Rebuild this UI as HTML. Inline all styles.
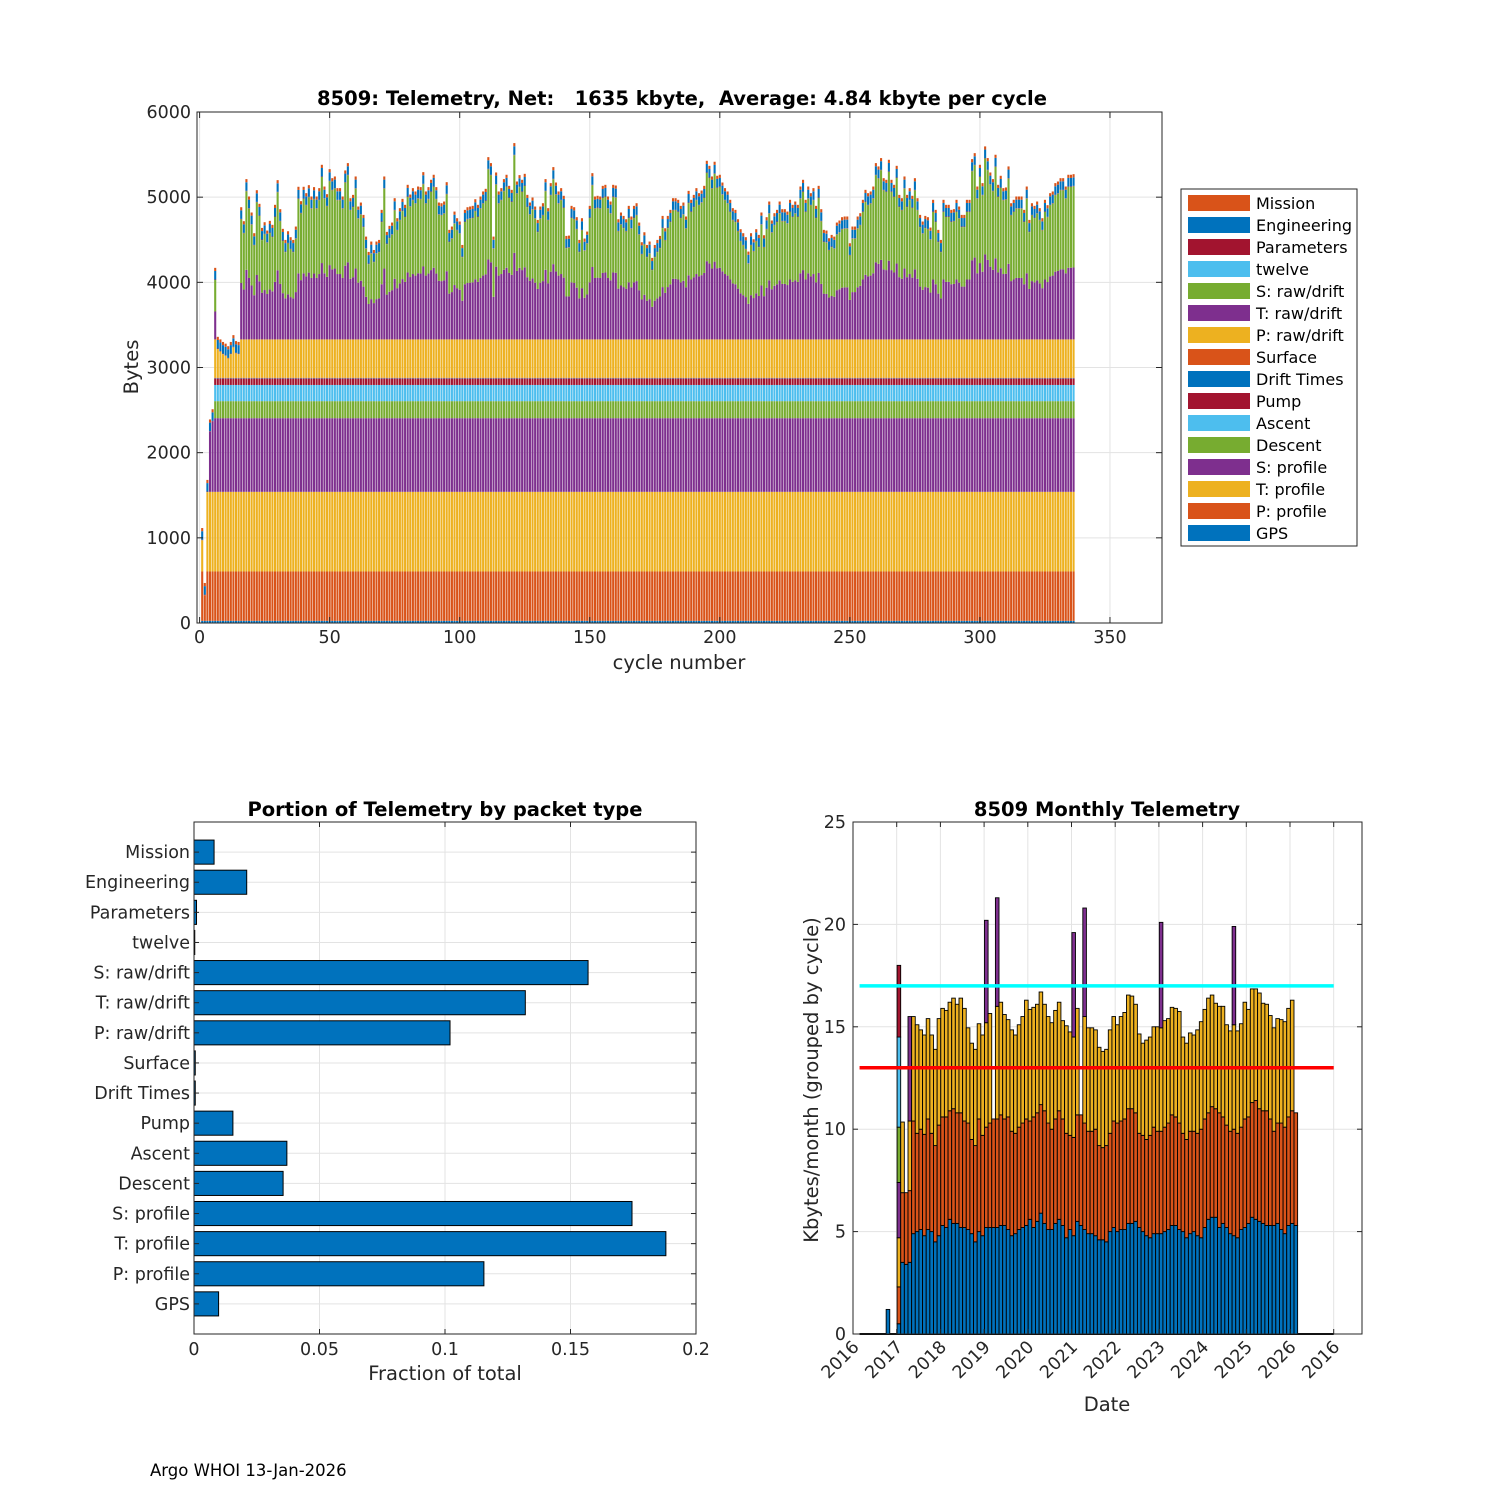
<!DOCTYPE html>
<html><head><meta charset="utf-8"><style>
html,body{margin:0;padding:0;background:#fff;}
svg{display:block;font-family:"DejaVu Sans","Liberation Sans",sans-serif;}
</style></head><body>
<svg id="fig" width="1500" height="1500" viewBox="0 0 1500 1500" xmlns="http://www.w3.org/2000/svg">
<rect x="0" y="0" width="1500" height="1500" fill="#fff"/>
<g id="top"></g>
<g id="legend"></g>
<g id="bl"></g>
<g id="br"></g>
<text x="150" y="1476" font-size="16.5" fill="#000">Argo WHOI 13-Jan-2026</text>
</svg>
<script>
// ---------- top chart data ----------
const cycleTotal = [1115,470,1680,2390,2510,4170,3360,3330,3300,3280,3250,3300,3380,3310,3300,
4882,4718,5212,5008,4820,4577,5082,4922,4639,4706,
4608,4722,4675,4910,5200,4859,4628,4498,4600,4530,
4498,4655,5122,4953,5122,5047,5141,5008,5118,5008,
5106,5380,5125,5035,5329,5223,5243,5106,5106,5008,
5314,5400,4988,5027,5243,4890,4937,4792,4537,4357,
4479,4380,4479,4498,4851,5243,4592,4663,4702,4988,
4753,4871,4980,4910,5145,5031,5106,5067,5125,5118,
5294,5067,5118,5204,5263,5118,4937,4929,4949,5176,
4616,4655,4831,4753,4714,4439,4851,4882,4890,4898,
4976,4910,5008,5067,5098,5470,5400,
4537,5290,5067,5106,5212,5263,5133,5086,
5635,5184,5259,5204,5274,5027,4937,4996,4890,4733,
4890,4929,5212,4871,5165,5353,5172,5067,5106,5016,
4545,4549,4898,4882,4765,4498,4753,4514,4596,4898,
5282,5008,5016,5008,5133,5145,5008,4949,5145,5137,
4741,4820,4780,4741,4898,4773,4898,4929,4702,4471,
4588,4439,4479,4287,4439,4498,4545,4780,4635,4780,
4851,4988,4988,4969,4898,4937,4773,5074,4969,5027,
5106,5047,5078,5133,5427,5368,5243,5416,5251,5263,
5172,5106,5067,4969,4871,4851,4741,4624,4577,4530,
4361,4577,4506,4624,4557,4820,4553,4765,4949,4726,
4812,4851,4949,4859,4859,
4831,4969,4910,4949,4910,5125,5204,4969,
5125,5047,5106,4898,5133,4859,4616,4608,4518,4557,
4537,4702,4726,4765,4773,4773,4459,4655,4655,4773,
4812,4969,5086,5047,5067,5125,5400,5361,5459,5223,
5204,5439,5204,5145,5368,5027,4988,5243,5027,5106,
5016,5223,4988,4792,4714,4780,4765,4643,4969,4851,
4616,4498,4969,4910,4910,4851,4859,4969,4890,4792,
4792,4969,4969,5447,5517,5125,5380,5165,5596,5459,
5290,5212,5498,5145,5251,5106,5114,5361,4929,4969,
5008,5008,5008,4851,5125,4733,4929,4898,4949,4871,
4753,4969,4906,5047,5067,5165,5184,5223,5223,5125,
5263,5263,5270];
const layerNames = ['GPS','P: profile','T: profile','S: profile','Descent','Ascent','Pump','Drift Times','Surface','P: raw/drift','T: raw/drift','S: raw/drift','twelve','Parameters','Engineering','Mission'];
const layerColors = ['#0072BD','#D95319','#EDB120','#7E2F8E','#77AC30','#4DBEEE','#A2142F','#0072BD','#D95319','#EDB120','#7E2F8E','#77AC30','#4DBEEE','#A2142F','#0072BD','#D95319'];
const typicalBytes = [25,580,935,865,200,190,75,5,5,450,0,0,1,5,100,37];
const tRawShare = [0.47];
const topXTicks = [0,50,100,150,200,250,300,350];
const topYTicks = [0,1000,2000,3000,4000,5000,6000];

// ---------- bottom-left data ----------
const packetNames = ['GPS','P: profile','T: profile','S: profile','Descent','Ascent','Pump','Drift Times','Surface','P: raw/drift','T: raw/drift','S: raw/drift','twelve','Parameters','Engineering','Mission'];
const packetFractions = [0.0098,0.1155,0.188,0.1745,0.0355,0.037,0.0155,0.0005,0.0005,0.102,0.132,0.157,0.0003,0.001,0.021,0.008];
const fracTicks = [0,0.05,0.1,0.15,0.2];
const fracTickLabels = ['0','0.05','0.1','0.15','0.2'];

// ---------- bottom-right data (months from Oct 2016) ----------
const blueTop = [1.2,0,0,0.5,3.5,3.4,3.5,
4.9,5.0,5.1,4.8,5.1,5.0,4.5,4.8,
5.3,5.2,5.6,5.4,5.4,5.2,5.2,5.1,4.9,4.5,5.0,4.8,
5.2,5.2,5.2,5.2,5.3,5.3,5.1,4.8,4.9,5.1,5.2,5.3,
5.6,5.2,5.5,5.9,5.4,5.1,5.1,5.4,5.6,5.3,4.7,5.1,
4.8,5.5,5.3,5.1,4.9,4.9,4.8,4.6,4.6,4.5,5.0,5.2,
5.0,5.1,5.1,5.4,5.4,5.5,5.2,5.0,4.8,4.7,4.9,4.9,
4.9,5.0,5.1,5.3,5.3,5.1,5.0,4.7,4.9,5.0,4.8,4.7,
5.2,5.6,5.7,5.7,5.2,5.4,5.2,4.9,4.8,4.7,5.1,5.2,
5.4,5.7,5.6,5.5,5.4,5.3,5.3,5.3,5.4,5.1,4.9,5.3,
5.4,5.3];
const orangeTop = [0,0,0,2.3,6.9,6.9,7.0,
10.4,9.8,10.0,9.75,10.5,9.8,9.2,10.2,
10.6,10.6,10.9,11.0,10.8,10.8,10.4,10.3,9.5,9.2,10.5,9.7,
10.1,10.3,10.5,10.5,10.7,10.5,10.6,9.9,9.8,10.1,10.3,10.5,
10.4,10.6,10.8,11.2,10.9,10.3,10.0,10.5,10.9,10.5,9.8,9.7,
9.6,10.7,10.7,10.3,9.9,9.9,10.0,9.2,9.1,9.2,9.8,10.4,
10.3,10.4,10.5,11.0,11.0,10.8,9.8,9.7,9.5,9.7,10.1,9.9,
9.9,10.1,10.3,10.7,10.6,10.3,9.8,9.5,9.9,9.9,9.8,10.0,
10.5,10.8,11.1,11.0,10.8,10.6,10.2,9.9,10.0,9.8,10.1,10.5,
10.6,11.3,11.4,11.0,10.9,10.9,10.5,9.9,10.3,10.3,10.1,10.6,
10.9,10.8];
const yellowTop = [0,0,0,4.7,10.35,6.9,10.4,
15.5,15.1,14.85,14.6,15.4,14.6,13.9,15.4,
15.9,15.8,16.2,16.4,16.1,16.4,15.9,14.95,14.2,13.9,15.15,14.6,
15.2,15.65,10.5,16.0,16.2,15.6,15.35,14.85,14.6,15.1,15.5,16.3,
15.85,15.95,16.1,16.7,16.1,15.5,15.2,15.8,16.2,15.3,15.05,14.75,
14.5,15.9,10.7,15.5,14.95,14.95,14.85,14.0,13.8,13.9,14.85,15.5,
15.1,15.5,15.7,16.55,16.5,16.1,14.65,14.2,14.35,14.5,15.0,15.0,
14.95,15.3,15.4,15.95,15.9,15.75,14.5,14.2,14.7,14.6,14.85,15.25,
15.85,16.4,16.55,16.15,16.0,16.0,15.1,14.8,15.1,14.8,15.15,16.2,
15.85,16.85,16.85,16.65,16.15,16.1,15.55,14.95,15.4,15.35,15.25,15.9,
16.3,10.8];
const purpleMonths = [3,6,27,30,51,54,75,95];
const purpleTops = [7.4,15.5,20.2,21.3,19.6,20.8,20.1,19.9];
const greenMonths = [3];
const greenTops = [10.1];
const cyanMonths = [3];
const cyanTops = [14.5];
const redMonths = [3];
const redTops = [18.0];
const monthTickYears = [2016,2017,2018,2019,2020,2021,2022,2023,2024,2025,2026,2027];
const monthTickLabels = ['2016','2017','2018','2019','2020','2021','2022','2023','2024','2025','2026','2016'];
const monthYTicks = [0,5,10,15,20,25];
const limitLevels = [17,13];

const NS='http://www.w3.org/2000/svg';
function mk(parent, tag, attrs, text){
  const e=document.createElementNS(NS,tag);
  for(const k in attrs) e.setAttribute(k,attrs[k]);
  if(text!==undefined) e.textContent=text;
  parent.appendChild(e); return e;
}
const AX='#262626', GRID='#e3e3e3';
const TF=17.5, LF=19.5;

// ================= TOP CHART =================
(function(){
  const g=document.getElementById('top');
  const L=197,R=1162,T=112,B=623;
  const xmin=-1,xmax=370,ymax=6000;
  const sx=v=>L+(v-xmin)/(xmax-xmin)*(R-L);
  const sy=v=>B-v/ymax*(B-T);
  let bg=mk(g,'rect',{x:L,y:T,width:R-L,height:B-T,fill:'#fff'});
  
  
  topXTicks.forEach(t=>{const l=mk(g,'line',{x1:sx(t),x2:sx(t),y1:T,y2:B,stroke:GRID,'stroke-width':1});
    
    });
  topYTicks.forEach(t=>{const l=mk(g,'line',{x1:L,x2:R,y1:sy(t),y2:sy(t),stroke:GRID,'stroke-width':1});
    
    });
  const bw=0.8*(R-L)/(xmax-xmin);
  const barsG=mk(g,'g',{});
  
  
  cycleTotal.forEach((tot,c)=>{
    const over=typicalBytes[12]+typicalBytes[13]+typicalBytes[14]+typicalBytes[15];
    let avail=Math.max(0,tot-over);
    const seg=new Array(16).fill(0);
    let acc=0;
    for(let k=0;k<10;k++){const v=Math.min(typicalBytes[k],Math.max(0,avail-acc));seg[k]=v;acc+=v;}
    const rem=Math.max(0,avail-acc);
    seg[10]=rem*tRawShare[0]; seg[11]=rem-seg[10];
    let top=Math.min(over,tot);
    for(let k=12;k<16;k++){const v=Math.min(typicalBytes[k],top);seg[k]=v;top-=v;}
    let base=0;
    const xc=sx(c+1);
    for(let k=0;k<16;k++){
      if(seg[k]<=0) continue;
      const r=mk(barsG,'rect',{x:xc-bw/2,y:sy(base+seg[k]),width:bw,height:sy(base)-sy(base+seg[k]),fill:layerColors[k]});
      
      
      base+=seg[k];
    }
  });
  const box=mk(g,'rect',{x:L,y:T,width:R-L,height:B-T,fill:'none',stroke:AX,'stroke-width':1});
  
  
  topXTicks.forEach(t=>{
    mk(g,'line',{x1:sx(t),x2:sx(t),y1:B,y2:B-6,stroke:AX});
    mk(g,'line',{x1:sx(t),x2:sx(t),y1:T,y2:T+6,stroke:AX});
    const tx=mk(g,'text',{x:sx(t),y:B+20,'font-size':TF,'text-anchor':'middle',fill:AX},String(t));
    
    
  });
  topYTicks.forEach(t=>{
    mk(g,'line',{x1:L,x2:L+6,y1:sy(t),y2:sy(t),stroke:AX});
    mk(g,'line',{x1:R,x2:R-6,y1:sy(t),y2:sy(t),stroke:AX});
    const tx=mk(g,'text',{x:L-6,y:sy(t)+6,'font-size':TF,'text-anchor':'end',fill:AX},String(t));
    
    
  });
  const ti=mk(g,'text',{x:682,y:105,'font-size':LF,'font-weight':'bold','text-anchor':'middle',fill:'#000','xml:space':'preserve'},'8509: Telemetry, Net:   1635 kbyte,  Average: 4.84 kbyte per cycle');
  ti.style.whiteSpace='pre';
  
  
  const xl=mk(g,'text',{x:679,y:669,'font-size':LF,'text-anchor':'middle',fill:AX},'cycle number');
  
  
  const yl=mk(g,'text',{x:0,y:0,'font-size':LF,'text-anchor':'middle',fill:AX,transform:'translate(138,367) rotate(-90)'},'Bytes');
  
  
})();

// ================= LEGEND =================
(function(){
  const g=document.getElementById('legend');
  const bx=mk(g,'rect',{x:1181,y:189,width:176,height:357,fill:'#fff',stroke:AX,'stroke-width':1});
  
  
  for(let i=0;i<16;i++){
    const k=15-i;
    const y=203+i*22;
    const eg=mk(g,'g',{});
    
    
    mk(eg,'rect',{x:1188,y:y-8,width:62,height:16,fill:layerColors[k]});
    mk(eg,'text',{x:1256,y:y+6,'font-size':16,fill:'#000'},layerNames[k]);
  }
})();

// ================= BOTTOM LEFT =================
(function(){
  const g=document.getElementById('bl');
  const L=194,R=696,T=822,B=1334;
  const sx=v=>L+v/0.2*(R-L);
  const rowH=(B-T)/17;
  const sy=k=>B-k*rowH;
  fracTicks.forEach(t=>{const l=mk(g,'line',{x1:sx(t),x2:sx(t),y1:T,y2:B,stroke:GRID});
    
    });
  packetNames.forEach((n,i)=>{const l=mk(g,'line',{x1:L,x2:R,y1:sy(i+1),y2:sy(i+1),stroke:GRID});
    
    });
  packetFractions.forEach((v,i)=>{
    const h=0.8*rowH;
    const r=mk(g,'rect',{x:L,y:sy(i+1)-h/2,width:sx(v)-L,height:h,fill:'#0072BD',stroke:'#000','stroke-width':1});
    
    
  });
  const box=mk(g,'rect',{x:L,y:T,width:R-L,height:B-T,fill:'none',stroke:AX});
  
  
  fracTicks.forEach((t,i)=>{
    mk(g,'line',{x1:sx(t),x2:sx(t),y1:B,y2:B-5,stroke:AX});
    mk(g,'line',{x1:sx(t),x2:sx(t),y1:T,y2:T+5,stroke:AX});
    const tx=mk(g,'text',{x:sx(t),y:B+21,'font-size':TF,'text-anchor':'middle',fill:AX},fracTickLabels[i]);
    
    
  });
  packetNames.forEach((n,i)=>{
    mk(g,'line',{x1:L,x2:L+5,y1:sy(i+1),y2:sy(i+1),stroke:AX});
    mk(g,'line',{x1:R,x2:R-5,y1:sy(i+1),y2:sy(i+1),stroke:AX});
    const tx=mk(g,'text',{x:L-4,y:sy(i+1)+6,'font-size':TF,'text-anchor':'end',fill:AX},n);
    
    
  });
  const ti=mk(g,'text',{x:445,y:816,'font-size':LF,'font-weight':'bold','text-anchor':'middle',fill:'#000'},'Portion of Telemetry by packet type');
  
  
  const xl=mk(g,'text',{x:445,y:1380,'font-size':LF,'text-anchor':'middle',fill:AX},'Fraction of total');
  
  
})();

// ================= BOTTOM RIGHT =================
(function(){
  const g=document.getElementById('br');
  const L=853,R=1362,T=822,B=1334;
  const yearPx=43.7;
  const sx=t=>L+(t-2016)*yearPx;
  const sy=v=>B-v/25*(B-T);
  monthTickYears.forEach(y=>{const l=mk(g,'line',{x1:sx(y),x2:sx(y),y1:T,y2:B,stroke:GRID});
    
    });
  monthYTicks.forEach(v=>{const l=mk(g,'line',{x1:L,x2:R,y1:sy(v),y2:sy(v),stroke:GRID});
    
    });
  const bw=3.6;
  const center=i=>sx(2016+(9+i+0.6)/12);
  function seg(x,lo,hi,col){
    if(hi<=lo) return;
    const r=mk(g,'rect',{x:x-bw/2,y:sy(hi),width:bw,height:sy(lo)-sy(hi),fill:col,stroke:'#000','stroke-width':0.9});
    
    
  }
  const bl=mk(g,'line',{x1:sx(2016.15),x2:sx(2027),y1:B,y2:B,stroke:'#000','stroke-width':2});
  
  
  blueTop.forEach((b,i)=>{
    const x=center(i);
    let base=0;
    seg(x,0,b,'#0072BD'); base=Math.max(base,b);
    seg(x,base,orangeTop[i],'#D95319'); base=Math.max(base,orangeTop[i]);
    seg(x,base,yellowTop[i],'#EDB120'); base=Math.max(base,yellowTop[i]);
    const extras=[[purpleMonths,purpleTops,'#7E2F8E'],[greenMonths,greenTops,'#77AC30'],[cyanMonths,cyanTops,'#4DBEEE'],[redMonths,redTops,'#A2142F']];
    extras.forEach(([ms,ts,col])=>{const j=ms.indexOf(i); if(j>=0){seg(x,base,ts[j],col); base=Math.max(base,ts[j]);}});
  });
  const cols=['#00FFFF','#FF0000'];
  limitLevels.forEach((v,i)=>{
    const l=mk(g,'line',{x1:sx(2016.15),x2:sx(2027),y1:sy(v),y2:sy(v),stroke:cols[i],'stroke-width':3.5});
    
    
  });
  const box=mk(g,'rect',{x:L,y:T,width:R-L,height:B-T,fill:'none',stroke:AX});
  
  
  monthTickYears.forEach((y,i)=>{
    mk(g,'line',{x1:sx(y),x2:sx(y),y1:B,y2:B-5,stroke:AX});
    mk(g,'line',{x1:sx(y),x2:sx(y),y1:T,y2:T+5,stroke:AX});
    const x=sx(y)+7, yy=B+14;
    const tx=mk(g,'text',{x:x,y:yy,'font-size':TF,'text-anchor':'end',fill:AX,transform:'rotate(-45 '+x+' '+yy+')'},monthTickLabels[i]);
    
    
  });
  monthYTicks.forEach(v=>{
    mk(g,'line',{x1:L,x2:L+5,y1:sy(v),y2:sy(v),stroke:AX});
    mk(g,'line',{x1:R,x2:R-5,y1:sy(v),y2:sy(v),stroke:AX});
    const tx=mk(g,'text',{x:L-7,y:sy(v)+6,'font-size':TF,'text-anchor':'end',fill:AX},String(v));
    
    
  });
  const ti=mk(g,'text',{x:1107,y:816,'font-size':LF,'font-weight':'bold','text-anchor':'middle',fill:'#000'},'8509 Monthly Telemetry');
  
  
  const xl=mk(g,'text',{x:1107,y:1411,'font-size':LF,'text-anchor':'middle',fill:AX},'Date');
  
  
  const yl=mk(g,'text',{x:0,y:0,'font-size':LF,'text-anchor':'middle',fill:AX,transform:'translate(818,1080) rotate(-90)'},'Kbytes/month (grouped by cycle)');
  
  
})();
</script>
</body></html>
